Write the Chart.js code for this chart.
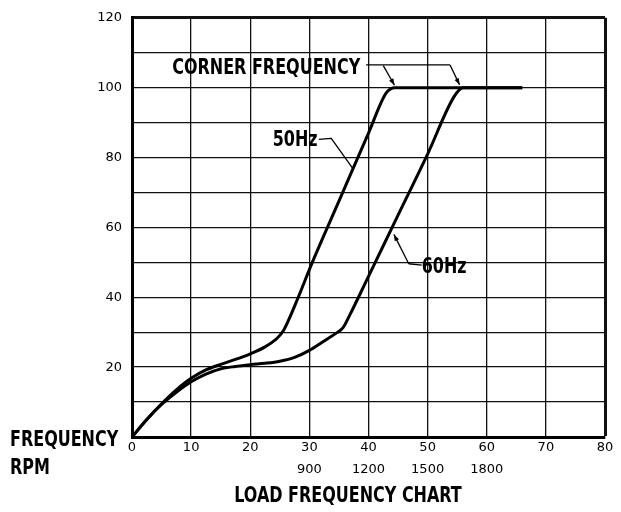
<!DOCTYPE html>
<html>
<head>
<meta charset="utf-8">
<script src="https://cdn.jsdelivr.net/npm/chart.js@4/dist/chart.umd.min.js"></script>
<style>
  html, body { margin: 0; padding: 0; background: #fff; }
  #wrap { width: 621px; height: 512px; position: relative; }
</style>
</head>
<body>
<div id="wrap"><canvas id="loadChart"></canvas></div>
<script>
// load frequency curves — x in Hz, y in percent
const hz50  = [0, 2.5, 5, 7.5, 10, 12.5, 15, 17.5, 20, 22.5, 24.5, 25.6, 26.5, 28, 30.5, 35, 40, 43, 44.5, 55, 66];
const pct50 = [0, 5, 9.5, 13.5, 16.8, 19.2, 20.8, 22.2, 23.8, 25.8, 28.2, 30.4, 33.5, 39.5, 50, 67.5, 87, 98.5, 100, 100, 100];

const hz60  = [0, 2.5, 5, 7.5, 10, 12.5, 15, 17.5, 20, 22.5, 25, 27.5, 30, 32.5, 34.6, 35.7, 36.8, 40, 45, 50, 54.5, 56, 66];
const pct60 = [0, 5, 9.3, 12.8, 15.8, 18, 19.5, 20.2, 20.7, 21.1, 21.7, 22.8, 24.8, 27.5, 29.8, 31.3, 34.8, 46, 63.5, 81, 97.5, 100, 100];

// second row under the Hz ticks
const rpmAt     = [30, 40, 50, 60];
const rpmLabels = ['900', '1200', '1500', '1800'];

const yLabelTicks = [20, 40, 60, 80, 100, 120];

const BOLD = '"Liberation Sans Narrow", "DejaVu Sans Condensed", "Roboto Condensed", sans-serif';
const HAND = '"DejaVu Sans", "Liberation Sans", sans-serif';

function pts(xs, ys) { return xs.map((x, i) => ({ x, y: ys[i] })); }

function arrow(ctx, x1, y1, x2, y2) {
    ctx.beginPath(); ctx.moveTo(x1, y1); ctx.lineTo(x2, y2); ctx.stroke();
    const a = Math.atan2(y2 - y1, x2 - x1), L = 7, W = 0.35;
    ctx.beginPath();
    ctx.moveTo(x2, y2);
    ctx.lineTo(x2 - L * Math.cos(a - W), y2 - L * Math.sin(a - W));
    ctx.lineTo(x2 - L * Math.cos(a + W), y2 - L * Math.sin(a + W));
    ctx.closePath(); ctx.fill();
}

// squeezed bold lettering, so whatever condensed face is present ends up the same width
let squeeze = 1;
function label(ctx, text, x, y, align) {
    ctx.save();
    ctx.translate(x, y);
    ctx.scale(squeeze, 1);
    ctx.textAlign = align;
    ctx.fillText(text, 0, 0);
    ctx.restore();
}

// callouts and the captions outside the axes
const callouts = {
    id: 'callouts',
    afterDatasetsDraw(chart) {
        const { ctx, scales: { x, y } } = chart;
        const px = v => x.getPixelForValue(v), py = v => y.getPixelForValue(v);
        ctx.save();
        ctx.fillStyle = '#000'; ctx.strokeStyle = '#000';
        ctx.lineWidth = 1.3; ctx.lineJoin = 'round';
        ctx.font = 'bold 21px ' + BOLD;
        ctx.textBaseline = 'middle';
        squeeze = Math.min(1, 188 / ctx.measureText('CORNER FREQUENCY').width);

        // CORNER FREQUENCY
        label(ctx, 'CORNER FREQUENCY', px(6.8), py(105.4), 'left');
        ctx.beginPath();
        ctx.moveTo(px(39.6), py(106.5)); ctx.lineTo(px(53.8), py(106.5));
        ctx.stroke();
        arrow(ctx, px(42.5), py(106.3), px(44.4), py(100.7));
        arrow(ctx, px(53.8), py(106.5), px(55.4), py(100.8));

        // 50Hz
        label(ctx, '50Hz', px(27.6), py(85), 'center');
        ctx.beginPath();
        ctx.moveTo(px(31.6), py(85.2)); ctx.lineTo(px(33.7), py(85.5));
        ctx.lineTo(px(37.3), py(77));
        ctx.stroke();

        // 60Hz
        label(ctx, '60Hz', px(52.8), py(48.6), 'center');
        ctx.beginPath();
        ctx.moveTo(px(49), py(49.2)); ctx.lineTo(px(46.8), py(49.6));
        ctx.stroke();
        arrow(ctx, px(46.8), py(49.6), px(44.3), py(58));

        // axis captions
        label(ctx, 'FREQUENCY', 10, 441, 'left');
        label(ctx, 'RPM', 10, 469, 'left');
        label(ctx, 'LOAD FREQUENCY CHART', 348, 497, 'center');
        ctx.restore();
    }
};

new Chart(document.getElementById('loadChart'), {
    type: 'line',
    data: {
        datasets: [
            { label: '50Hz', data: pts(hz50, pct50) },
            { label: '60Hz', data: pts(hz60, pct60) }
        ]
    },
    options: {
        responsive: true, maintainAspectRatio: false,
        animation: false,
        layout: { padding: { top: 15, right: 16, left: 0, bottom: 0 } },
        elements: {
            line : { borderColor: '#000', borderWidth: 3, cubicInterpolationMode: 'monotone', fill: false },
            point: { radius: 0 }
        },
        plugins: { legend: { display: false }, tooltip: { enabled: false } },
        scales: {
            x: {
                type: 'linear', min: 0, max: 80,
                afterFit: s => { s.height = 75; },
                border: { width: 3, color: '#000' },
                grid: {
                    color: '#111', drawTicks: false,
                    lineWidth: c => (c.tick && c.tick.value === 80 ? 3 : 1.3)
                },
                ticks: {
                    stepSize: 10, autoSkip: false, maxRotation: 0, padding: 0, color: '#000',
                    font: { family: HAND, size: 13, lineHeight: '22px' },
                    callback: v => {
                        const i = rpmAt.indexOf(v);
                        return i >= 0 ? [String(v), rpmLabels[i]] : String(v);
                    }
                }
            },
            y: {
                min: 0, max: 120,
                afterFit: s => { s.width = 132; },
                border: { width: 3, color: '#000' },
                grid: {
                    color: '#111', drawTicks: false,
                    lineWidth: c => (c.tick && c.tick.value === 120 ? 3 : 1.3)
                },
                ticks: {
                    stepSize: 10, autoSkip: false, padding: 10, color: '#000',
                    font: { family: HAND, size: 13 },
                    callback: v => (yLabelTicks.includes(v) ? String(v) : '')
                }
            }
        }
    },
    plugins: [callouts]
});
</script>
</body>
</html>
